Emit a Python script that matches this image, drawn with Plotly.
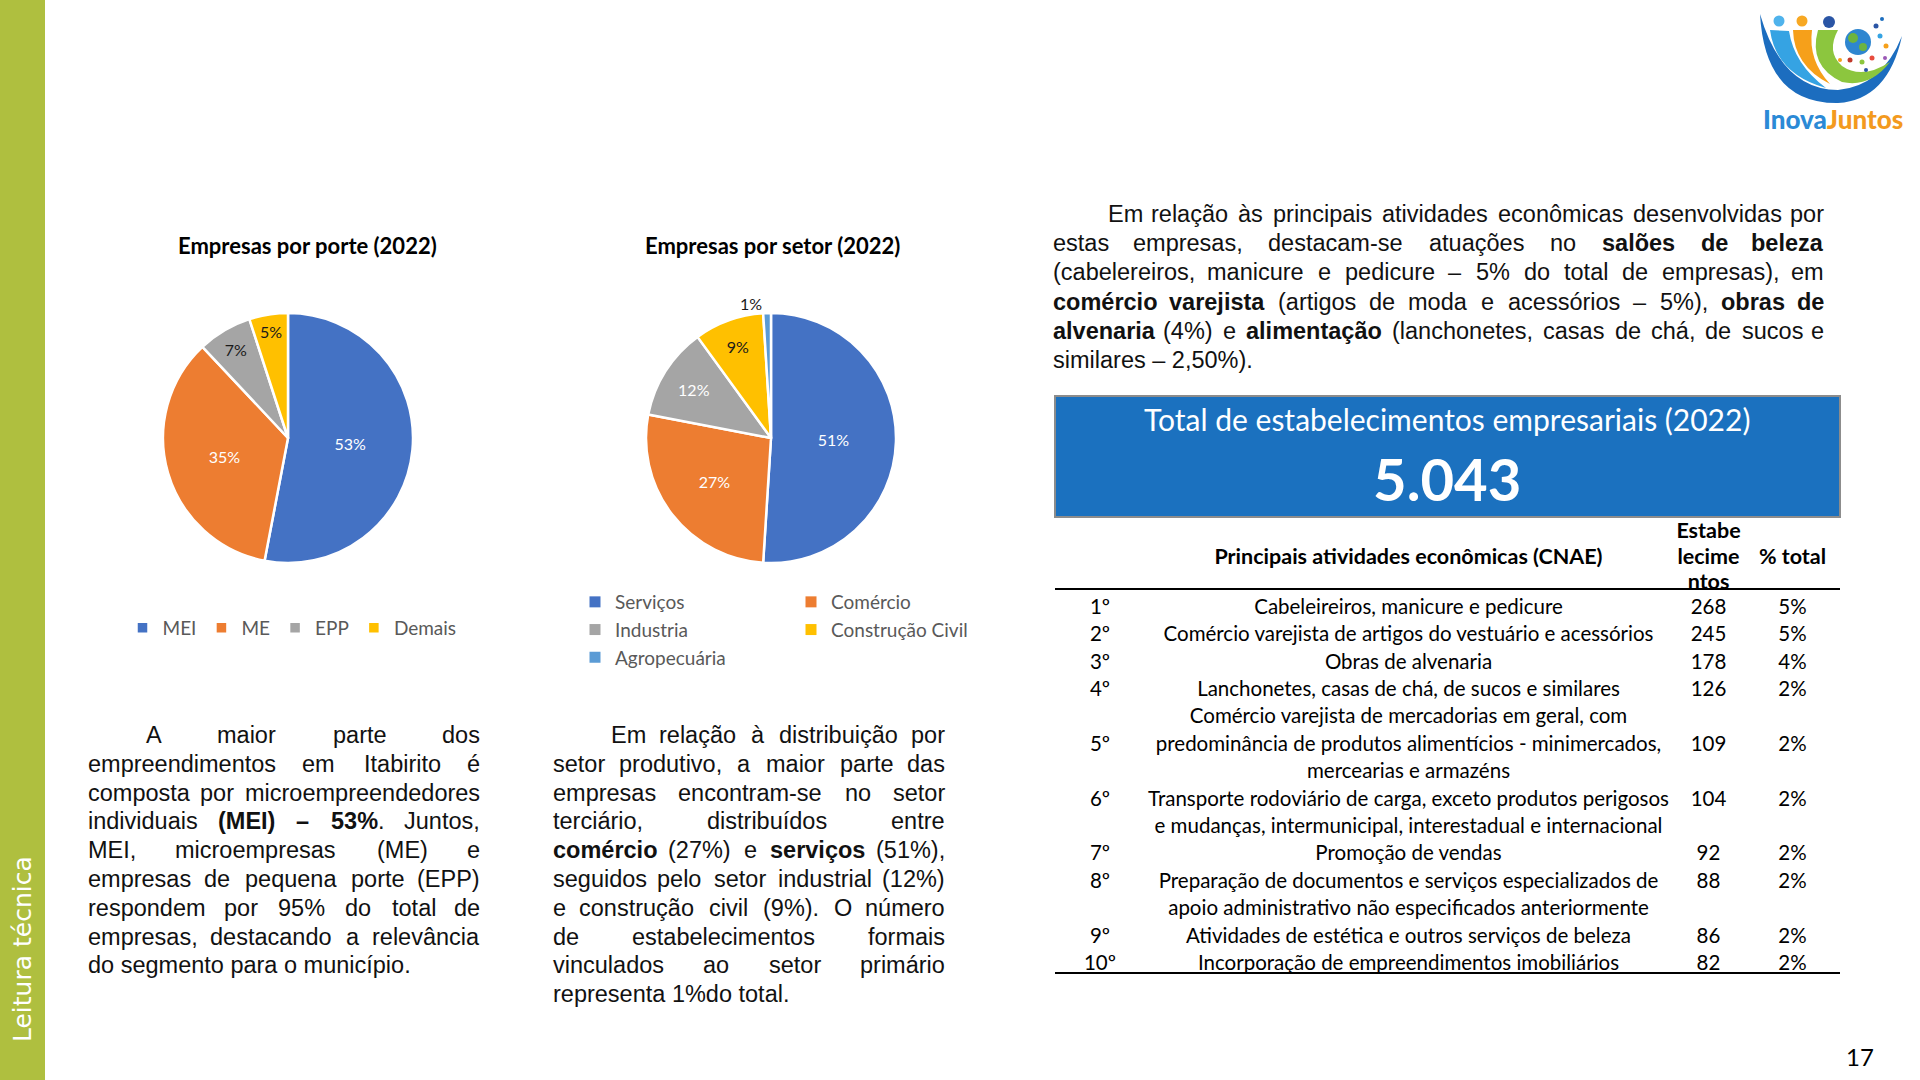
import unicodedata
import plotly.graph_objects as go

W, H = 1920, 1080


def X(px):
    return px / W


def Y(py):
    return 1 - py / H


# ---------------- data ----------------
porte_title = "Empresas por porte (2022)"
porte_labels = ["MEI", "ME", "EPP", "Demais"]
porte_values = [53, 35, 7, 5]
porte_colors = ["#4472C4", "#ED7D31", "#A5A5A5", "#FFC000"]

setor_title = "Empresas por setor (2022)"
setor_labels = ["Serviços", "Comércio", "Industria", "Construção Civil", "Agropecuária"]
setor_values = [51, 27, 12, 9, 1]
setor_colors = ["#4472C4", "#ED7D31", "#A5A5A5", "#FFC000", "#5B9BD5"]

box_title = "Total de estabelecimentos empresariais (2022)"
box_value = "5.043"

table_headers = ["", "Principais atividades econômicas (CNAE)", "Estabe\nlecime\nntos", "% total"]
rank_labels = ["1º", "2º", "3º", "4º", "5º", "6º", "7º", "8º", "9º", "10º"]
atividades = [
    "Cabeleireiros, manicure e pedicure",
    "Comércio varejista de artigos do vestuário e acessórios",
    "Obras de alvenaria",
    "Lanchonetes, casas de chá, de sucos e similares",
    "Comércio varejista de mercadorias em geral, com\npredominância de produtos alimentícios - minimercados,\nmercearias e armazéns",
    "Transporte rodoviário de carga, exceto produtos perigosos\ne mudanças, intermunicipal, interestadual e internacional",
    "Promoção de vendas",
    "Preparação de documentos e serviços especializados de\napoio administrativo não especificados anteriormente",
    "Atividades de estética e outros serviços de beleza",
    "Incorporação de empreendimentos imobiliários",
]
estabelecimentos = [268, 245, 178, 126, 109, 104, 92, 88, 86, 82]
pct_total = [5, 5, 4, 2, 2, 2, 2, 2, 2, 2]

para_porte = [
    "A maior parte dos",
    "empreendimentos em Itabirito é",
    "composta por microempreendedores",
    "individuais **(MEI) – 53%**. Juntos,",
    "MEI, microempresas (ME) e",
    "empresas de pequena porte (EPP)",
    "respondem por 95% do total de",
    "empresas, destacando a relevância",
    "do segmento para o município.",
]
para_setor = [
    "Em relação à distribuição por",
    "setor produtivo, a maior parte das",
    "empresas encontram-se no setor",
    "terciário, distribuídos entre",
    "**comércio** (27%) e **serviços** (51%),",
    "seguidos pelo setor industrial (12%)",
    "e construção civil (9%). O número",
    "de estabelecimentos formais",
    "vinculados ao setor primário",
    "representa 1%do total.",
]
para_atividades = [
    "Em relação às principais atividades econômicas desenvolvidas por",
    "estas empresas, destacam-se atuações no **salões de beleza**",
    "(cabelereiros, manicure e pedicure – 5% do total de empresas), em",
    "**comércio varejista** (artigos de moda e acessórios – 5%), **obras de**",
    "**alvenaria** (4%) e **alimentação** (lanchonetes, casas de chá, de sucos e",
    "similares – 2,50%).",
]
sidebar_text = "Leitura técnica"
page_number = "17"

# ---------------- fonts ----------------
CAL = "Lato, 'Open Sans', sans-serif"
PARA = "'Liberation Sans', Arial, sans-serif"
PARA_SIZE = 23.5

# Arial / Liberation Sans advance widths (1/1000 em)
_reg_lower = dict(zip("abcdefghijklmnopqrstuvwxyz",
                      [556, 556, 500, 556, 556, 278, 556, 556, 222, 222, 500, 222, 833,
                       556, 556, 556, 556, 333, 500, 278, 556, 500, 722, 500, 500, 500]))
_reg_upper = dict(zip("ABCDEFGHIJKLMNOPQRSTUVWXYZ",
                      [667, 667, 722, 722, 667, 611, 778, 722, 278, 500, 667, 556, 833,
                       722, 778, 667, 778, 722, 667, 611, 722, 667, 944, 667, 667, 611]))
_bold_lower = dict(zip("abcdefghijklmnopqrstuvwxyz",
                       [556, 611, 556, 611, 556, 333, 611, 611, 278, 278, 556, 278, 889,
                        611, 611, 611, 611, 389, 556, 333, 611, 556, 778, 556, 556, 500]))
_bold_upper = dict(zip("ABCDEFGHIJKLMNOPQRSTUVWXYZ",
                       [722, 722, 722, 722, 667, 611, 778, 722, 278, 556, 722, 611, 833,
                        722, 778, 667, 778, 722, 667, 611, 722, 667, 944, 667, 667, 611]))
_punct = {" ": 278, ",": 278, ".": 278, "(": 333, ")": 333, "%": 889, "–": 556,
          "-": 333, ":": 278, ";": 278}


def char_w(ch, bold):
    base = unicodedata.normalize("NFD", ch)[0]
    if base.isdigit():
        return 556
    if base in _punct:
        return _punct[base]
    if bold:
        return _bold_lower.get(base, _bold_upper.get(base, 600))
    return _reg_lower.get(base, _reg_upper.get(base, 556))


def parse_words(line):
    words, cur, buf, bold, i = [], [], "", False, 0
    while i < len(line):
        if line.startswith("**", i):
            if buf:
                cur.append((buf, bold))
                buf = ""
            bold = not bold
            i += 2
            continue
        ch = line[i]
        if ch == " ":
            if buf:
                cur.append((buf, bold))
                buf = ""
            if cur:
                words.append(cur)
                cur = []
        else:
            buf += ch
        i += 1
    if buf:
        cur.append((buf, bold))
    if cur:
        words.append(cur)
    return words


def word_html(w):
    return "".join(f"<b>{t}</b>" if b else t for t, b in w)


def word_width(w, size):
    return sum(char_w(c, b) for t, b in w for c in t) * size / 1000


annotations = []
shapes = []


def note(x, y, text, font, **kw):
    d = dict(x=X(x), y=Y(y), xref="paper", yref="paper", text=text, showarrow=False,
             xanchor="center", yanchor="middle", font=font)
    d.update(kw)
    annotations.append(d)


def para_font():
    return dict(family=PARA, size=PARA_SIZE, color="#111111")


def add_paragraph(lines, x0, x1, y0, dy, indent):
    for k, line in enumerate(lines):
        y = y0 + k * dy
        left = x0 + (indent if k == 0 else 0)
        words = parse_words(line)
        last = k == len(lines) - 1
        if last or len(words) == 1:
            note(left, y, " ".join(word_html(w) for w in words), para_font(), xanchor="left")
            continue
        ws = [word_width(w, PARA_SIZE) for w in words]
        gap = max((x1 - left - sum(ws)) / (len(words) - 1), 0.25 * PARA_SIZE * 0.9)
        cx = left
        for i, (w, ww) in enumerate(zip(words, ws)):
            if i == 0:
                xa, xp = "left", left
            elif i == len(words) - 1:
                xa, xp = "right", x1
            else:
                xa, xp = "center", cx + ww / 2
            note(xp, y, word_html(w), para_font(), xanchor=xa)
            cx += ww + gap


add_paragraph(para_porte, 86, 482, 735, 28.8, 58)
add_paragraph(para_setor, 551, 947, 735, 28.8, 58)
add_paragraph(para_atividades, 1051, 1826, 214, 29.2, 55)

fig = go.Figure()

# ---------------- pies ----------------
fig.add_trace(go.Pie(
    labels=porte_labels, values=porte_values, sort=False, direction="clockwise",
    rotation=0, marker=dict(colors=porte_colors, line=dict(color="white", width=2.5)),
    texttemplate="%{percent:.0%}", textposition="inside",
    insidetextorientation="horizontal",
    textfont=dict(family=CAL, size=16, color=["white", "white", "#1a1a1a", "#1a1a1a"]),
    domain=dict(x=[X(163), X(413)], y=[Y(563), Y(313)]),
    legend="legend", showlegend=True, hoverinfo="label+percent",
))
fig.add_trace(go.Pie(
    labels=setor_labels, values=setor_values, sort=False, direction="clockwise",
    rotation=0, marker=dict(colors=setor_colors, line=dict(color="white", width=2.5)),
    texttemplate="%{percent:.0%}",
    textposition=["inside", "inside", "inside", "inside", "outside"],
    insidetextorientation="horizontal",
    textfont=dict(family=CAL, size=16,
                  color=["white", "white", "white", "#1a1a1a", "#1a1a1a"]),
    outsidetextfont=dict(family=CAL, size=16, color="#1a1a1a"),
    domain=dict(x=[X(646), X(896)], y=[Y(563), Y(313)]),
    showlegend=False, hoverinfo="label+percent",
))

# sector legend (two columns) through legend entries
for i, (lab, col) in enumerate(zip(setor_labels, setor_colors)):
    fig.add_trace(go.Scatter(
        x=[None], y=[None], mode="markers", name=lab,
        marker=dict(symbol="square", size=11, color=col),
        legend="legend2" if i % 2 == 0 else "legend3", hoverinfo="skip",
    ))

# ---------------- table ----------------
NB = "\u00a0"
HDR_H = 25.5
ROW_H = 27.4
TABLE_TOP = 514
CLEAR = "rgba(0,0,0,0)"

hdr_cols = [[], [], [], []]
for j, h in enumerate(table_headers):
    parts = h.split("\n")
    if len(parts) == 1:
        parts = ["", parts[0], ""]
    hdr_cols[j] = [p.replace(" ", NB) for p in parts]

c_rank, c_desc, c_n, c_pct = [], [], [], []
for r, a, n, p in zip(rank_labels, atividades, estabelecimentos, pct_total):
    lines = a.split("\n")
    mid = (len(lines) - 1) // 2
    for i, ln in enumerate(lines):
        c_desc.append(ln.replace(" ", NB))
        if i == mid:
            c_rank.append(r)
            c_n.append(str(n))
            c_pct.append(f"{p}%")
        else:
            c_rank.append("")
            c_n.append("")
            c_pct.append("")

n_rows = len(c_desc)
table_bottom = TABLE_TOP + 3 * HDR_H + n_rows * ROW_H
fig.add_trace(go.Table(
    domain=dict(x=[X(1055), X(1840)], y=[Y(table_bottom + 14), Y(TABLE_TOP)]),
    columnwidth=[90, 527, 73, 95],
    header=dict(values=hdr_cols, align="center", height=HDR_H,
                font=dict(family=CAL, size=21.5, color="black", weight="bold"),
                fill=dict(color=CLEAR), line=dict(color=CLEAR, width=1)),
    cells=dict(values=[c_rank, c_desc, c_n, c_pct], align="center", height=ROW_H,
               font=dict(family=CAL, size=20.5, color="black"),
               fill=dict(color=CLEAR), line=dict(color=CLEAR, width=1)),
))

hdr_line_y = TABLE_TOP + 3 * HDR_H - 1.5
for yy in (hdr_line_y, table_bottom - 1):
    shapes.append(dict(type="line", xref="paper", yref="paper", x0=X(1055), x1=X(1840),
                       y0=Y(yy), y1=Y(yy), line=dict(color="black", width=2), layer="above"))

# ---------------- decorations ----------------
# sidebar
shapes.append(dict(type="rect", xref="paper", yref="paper", x0=0, x1=X(45), y0=0, y1=1,
                   fillcolor="#AFBF3F", line=dict(width=0), layer="below"))
note(22, 949, sidebar_text, dict(family="'DejaVu Sans', sans-serif", size=25, color="white"),
     textangle=-90)

# blue total box
shapes.append(dict(type="rect", xref="paper", yref="paper", x0=X(1055), x1=X(1840),
                   y0=Y(517), y1=Y(396), fillcolor="#1B71BF",
                   line=dict(color="#8C8C8C", width=2), layer="below"))
note(1447, 419, box_title, dict(family=CAL, size=30, color="white"))
note(1447, 478, f"<b>{box_value}</b>", dict(family=CAL, size=58, color="white"))

# pie titles
note(307, 245, f"<b>{porte_title}</b>", dict(family=CAL, size=22, color="black"))
note(772, 245, f"<b>{setor_title}</b>", dict(family=CAL, size=22, color="black"))

# page number
note(1860, 1056, page_number, dict(family=CAL, size=24, color="black"))


# logo
def path(cmds):
    out = []
    for c in cmds:
        if isinstance(c, str):
            out.append(c)
            continue
        op, *pts = c
        coords = [f"{X(pts[j]):.5f},{Y(pts[j + 1]):.5f}" for j in range(0, len(pts), 2)]
        out.append(op + " ".join(coords))
    return " ".join(out)


def circle(cx, cy, r, color):
    shapes.append(dict(type="circle", xref="paper", yref="paper", x0=X(cx - r), x1=X(cx + r),
                       y0=Y(cy + r), y1=Y(cy - r), fillcolor=color, line=dict(width=0)))


logo_paths = [
    ([("M", 1760, 14), ("Q", 1765, 104, 1838, 103), ("Q", 1888, 100, 1902, 36),
      ("Q", 1882, 86, 1838, 90), ("Q", 1782, 90, 1760, 14), "Z"], "#1C6DBF"),
    ([("M", 1770, 30), ("Q", 1776, 74, 1826, 88), ("Q", 1794, 64, 1789, 31), "Z"], "#35A3E3"),
    ([("M", 1793, 30), ("Q", 1794, 66, 1830, 84), ("Q", 1808, 60, 1812, 30), "Z"], "#F6A01A"),
    ([("M", 1818, 30), ("Q", 1808, 66, 1842, 82), ("Q", 1870, 88, 1890, 62),
      ("Q", 1862, 80, 1842, 66), ("Q", 1826, 52, 1838, 30), "Z"], "#8CC63E"),
]
for cmds, col in logo_paths:
    shapes.append(dict(type="path", xref="paper", yref="paper", path=path(cmds),
                       fillcolor=col, line=dict(width=0)))
circle(1779, 21, 5.5, "#4FB3EC")
circle(1802, 21, 5.5, "#F7A823")
circle(1829, 22, 6, "#2A55A5")
circle(1858, 42, 13, "#2E86D0")
circle(1853, 38, 5, "#6DB33F")
circle(1863, 47, 4, "#6DB33F")
for cx, cy, r, col in [(1876, 26, 2.5, "#2A55A5"), (1882, 19, 2, "#1C6DBF"),
                       (1880, 36, 2.5, "#35A3E3"), (1886, 46, 2.5, "#F6A01A"),
                       (1872, 58, 2.5, "#E84C3D"), (1862, 62, 2.5, "#8CC63E"),
                       (1850, 60, 2.5, "#C0392B"), (1885, 58, 2, "#9B59B6"),
                       (1840, 60, 2, "#F6A01A"), (1866, 70, 2, "#2A55A5")]:
    circle(cx, cy, r, col)
note(1833, 119, "<span style='color:#2B8AD6'>Inova</span><span style='color:#F39A1E'>Juntos</span>",
     dict(family=CAL, size=26, weight=900))

# ---------------- layout ----------------
legend_font = dict(family=CAL, size=19, color="#595959")
fig.update_layout(
    width=W, height=H, margin=dict(l=0, r=0, t=0, b=0),
    paper_bgcolor="white", plot_bgcolor="white", template="none",
    xaxis=dict(visible=False), yaxis=dict(visible=False),
    showlegend=True, hovermode=False,
    legend=dict(orientation="h", x=X(292), xanchor="center", y=Y(628), yanchor="middle",
                font=legend_font, bgcolor="rgba(0,0,0,0)", itemclick=False),
    legend2=dict(orientation="v", x=X(575), xanchor="left", y=Y(583), yanchor="top",
                 font=legend_font, bgcolor="rgba(0,0,0,0)", itemclick=False),
    legend3=dict(orientation="v", x=X(791), xanchor="left", y=Y(583), yanchor="top",
                 font=legend_font, bgcolor="rgba(0,0,0,0)", itemclick=False),
    annotations=annotations, shapes=shapes,
    font=dict(family=CAL),
)

fig.write_html("out.html", config={"displayModeBar": False},
               post_script="document.body.style.margin='0px';")
